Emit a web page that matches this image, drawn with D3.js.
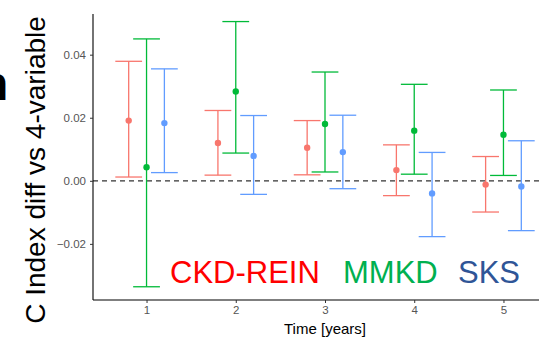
<!DOCTYPE html>
<html><head><meta charset="utf-8">
<script src="https://cdn.jsdelivr.net/npm/d3@7"></script>
<style>body{margin:0;background:#fff;}svg{display:block;font-family:"Liberation Sans",Arial,sans-serif;}</style>
</head><body>
<svg id="c" width="539" height="342"></svg>
<script>
const years = [1, 2, 3, 4, 5];
const cohorts = ["CKD-REIN", "MMKD", "SKS"];
const est = {
  "CKD-REIN": [0.0191, 0.0120, 0.0105, 0.0034, -0.0012],
  "MMKD":     [0.0043, 0.0283, 0.0180, 0.0159, 0.0146],
  "SKS":      [0.0183, 0.0079, 0.0091, -0.0040, -0.0018]
};
const lower = {
  "CKD-REIN": [0.0012, 0.0018, 0.0019, -0.0047, -0.0099],
  "MMKD":     [-0.0336, 0.0088, 0.0028, 0.0021, 0.0017],
  "SKS":      [0.0026, -0.0043, -0.0025, -0.0177, -0.0158]
};
const upper = {
  "CKD-REIN": [0.0379, 0.0223, 0.0191, 0.0114, 0.0077],
  "MMKD":     [0.0450, 0.0505, 0.0345, 0.0306, 0.0288],
  "SKS":      [0.0355, 0.0207, 0.0208, 0.0090, 0.0127]
};
const yTicks = [-0.02, 0.00, 0.02, 0.04];
const xTicks = [1, 2, 3, 4, 5];
const lineColors = {"CKD-REIN": "#F8766D", "MMKD": "#00BA38", "SKS": "#619CFF"};
const labelColors = {"CKD-REIN": "#FF0000", "MMKD": "#00B050", "SKS": "#2F5597"};

const svg = d3.select("#c");
const x = d3.scaleLinear().domain([0.4, 5.6]).range([93, 557]);
const y = d3.scaleLinear().domain([-0.0378, 0.0529]).range([300, 14]);
const dodge = d3.scaleBand().domain(cohorts).range([-0.3, 0.3]).paddingInner(0);
const off = c => dodge(c) + dodge.bandwidth() / 2;
const capHalf = 0.15;

// zero line
svg.append("line").attr("x1", x(0.4)).attr("x2", 539)
  .attr("y1", y(0)).attr("y2", y(0))
  .attr("stroke", "#333").attr("stroke-width", 1.3).attr("stroke-dasharray", "5,4");

// error bars
cohorts.forEach(c => {
  const g = svg.append("g");
  years.forEach((yr, i) => {
    const cx = x(yr + off(c));
    const col = lineColors[c];
    g.append("line").attr("x1", cx).attr("x2", cx).attr("y1", y(lower[c][i])).attr("y2", y(upper[c][i]))
      .attr("stroke", col).attr("stroke-width", 1.3);
    [lower[c][i], upper[c][i]].forEach(v => {
      g.append("line").attr("x1", x(yr + off(c) - capHalf)).attr("x2", x(yr + off(c) + capHalf))
        .attr("y1", y(v)).attr("y2", y(v)).attr("stroke", col).attr("stroke-width", 1.3);
    });
    g.append("circle").attr("cx", cx).attr("cy", y(est[c][i])).attr("r", 3.2).attr("fill", col);
  });
});

// axes
const yAxis = d3.axisLeft(y).tickValues(yTicks).tickFormat(d3.format(".2f")).tickSize(3).tickPadding(4);
const ya = svg.append("g").attr("transform", `translate(${x(0.4)},0)`).call(yAxis);
ya.select(".domain").attr("stroke", "#000").attr("stroke-width", 1.1).attr("d", `M0,${y.range()[1]}V${y.range()[0]}`);
ya.selectAll(".tick line").attr("stroke", "#333");
ya.selectAll(".tick text").attr("fill", "#555").style("font-size", "11.5px").style("font-family", "Liberation Sans, Arial, sans-serif");

const xAxis = d3.axisBottom(x).tickValues(xTicks).tickFormat(d3.format("d")).tickSize(3).tickPadding(3);
const xa = svg.append("g").attr("transform", `translate(0,${y.range()[0]})`).call(xAxis);
xa.select(".domain").attr("stroke", "#000").attr("stroke-width", 1.1).attr("d", `M${x(0.4)},0H${x(5.6)}`);
xa.selectAll(".tick line").attr("stroke", "#333");
xa.selectAll(".tick text").attr("fill", "#555").style("font-size", "11.5px").style("font-family", "Liberation Sans, Arial, sans-serif");

// axis titles
svg.append("text").attr("x", 325).attr("y", 334).attr("text-anchor", "middle")
  .style("font-size", "15px").attr("fill", "#000").text("Time [years]");
svg.append("text").attr("transform", "translate(45,170) rotate(-90)").attr("text-anchor", "middle")
  .style("font-size", "28px").attr("fill", "#000").text("C Index diff vs 4-variable");

// cut-off panel letter
svg.append("text").attr("x", -21).attr("y", 100).style("font-size", "48px").style("font-weight", "bold")
  .attr("fill", "#000").text("h");

// cohort labels
const labelX = {"CKD-REIN": 170, "MMKD": 343, "SKS": 458};
cohorts.forEach(c => {
  svg.append("text").attr("x", labelX[c]).attr("y", 283).style("font-size", "31px")
    .attr("fill", labelColors[c]).text(c);
});
</script>
</body></html>
